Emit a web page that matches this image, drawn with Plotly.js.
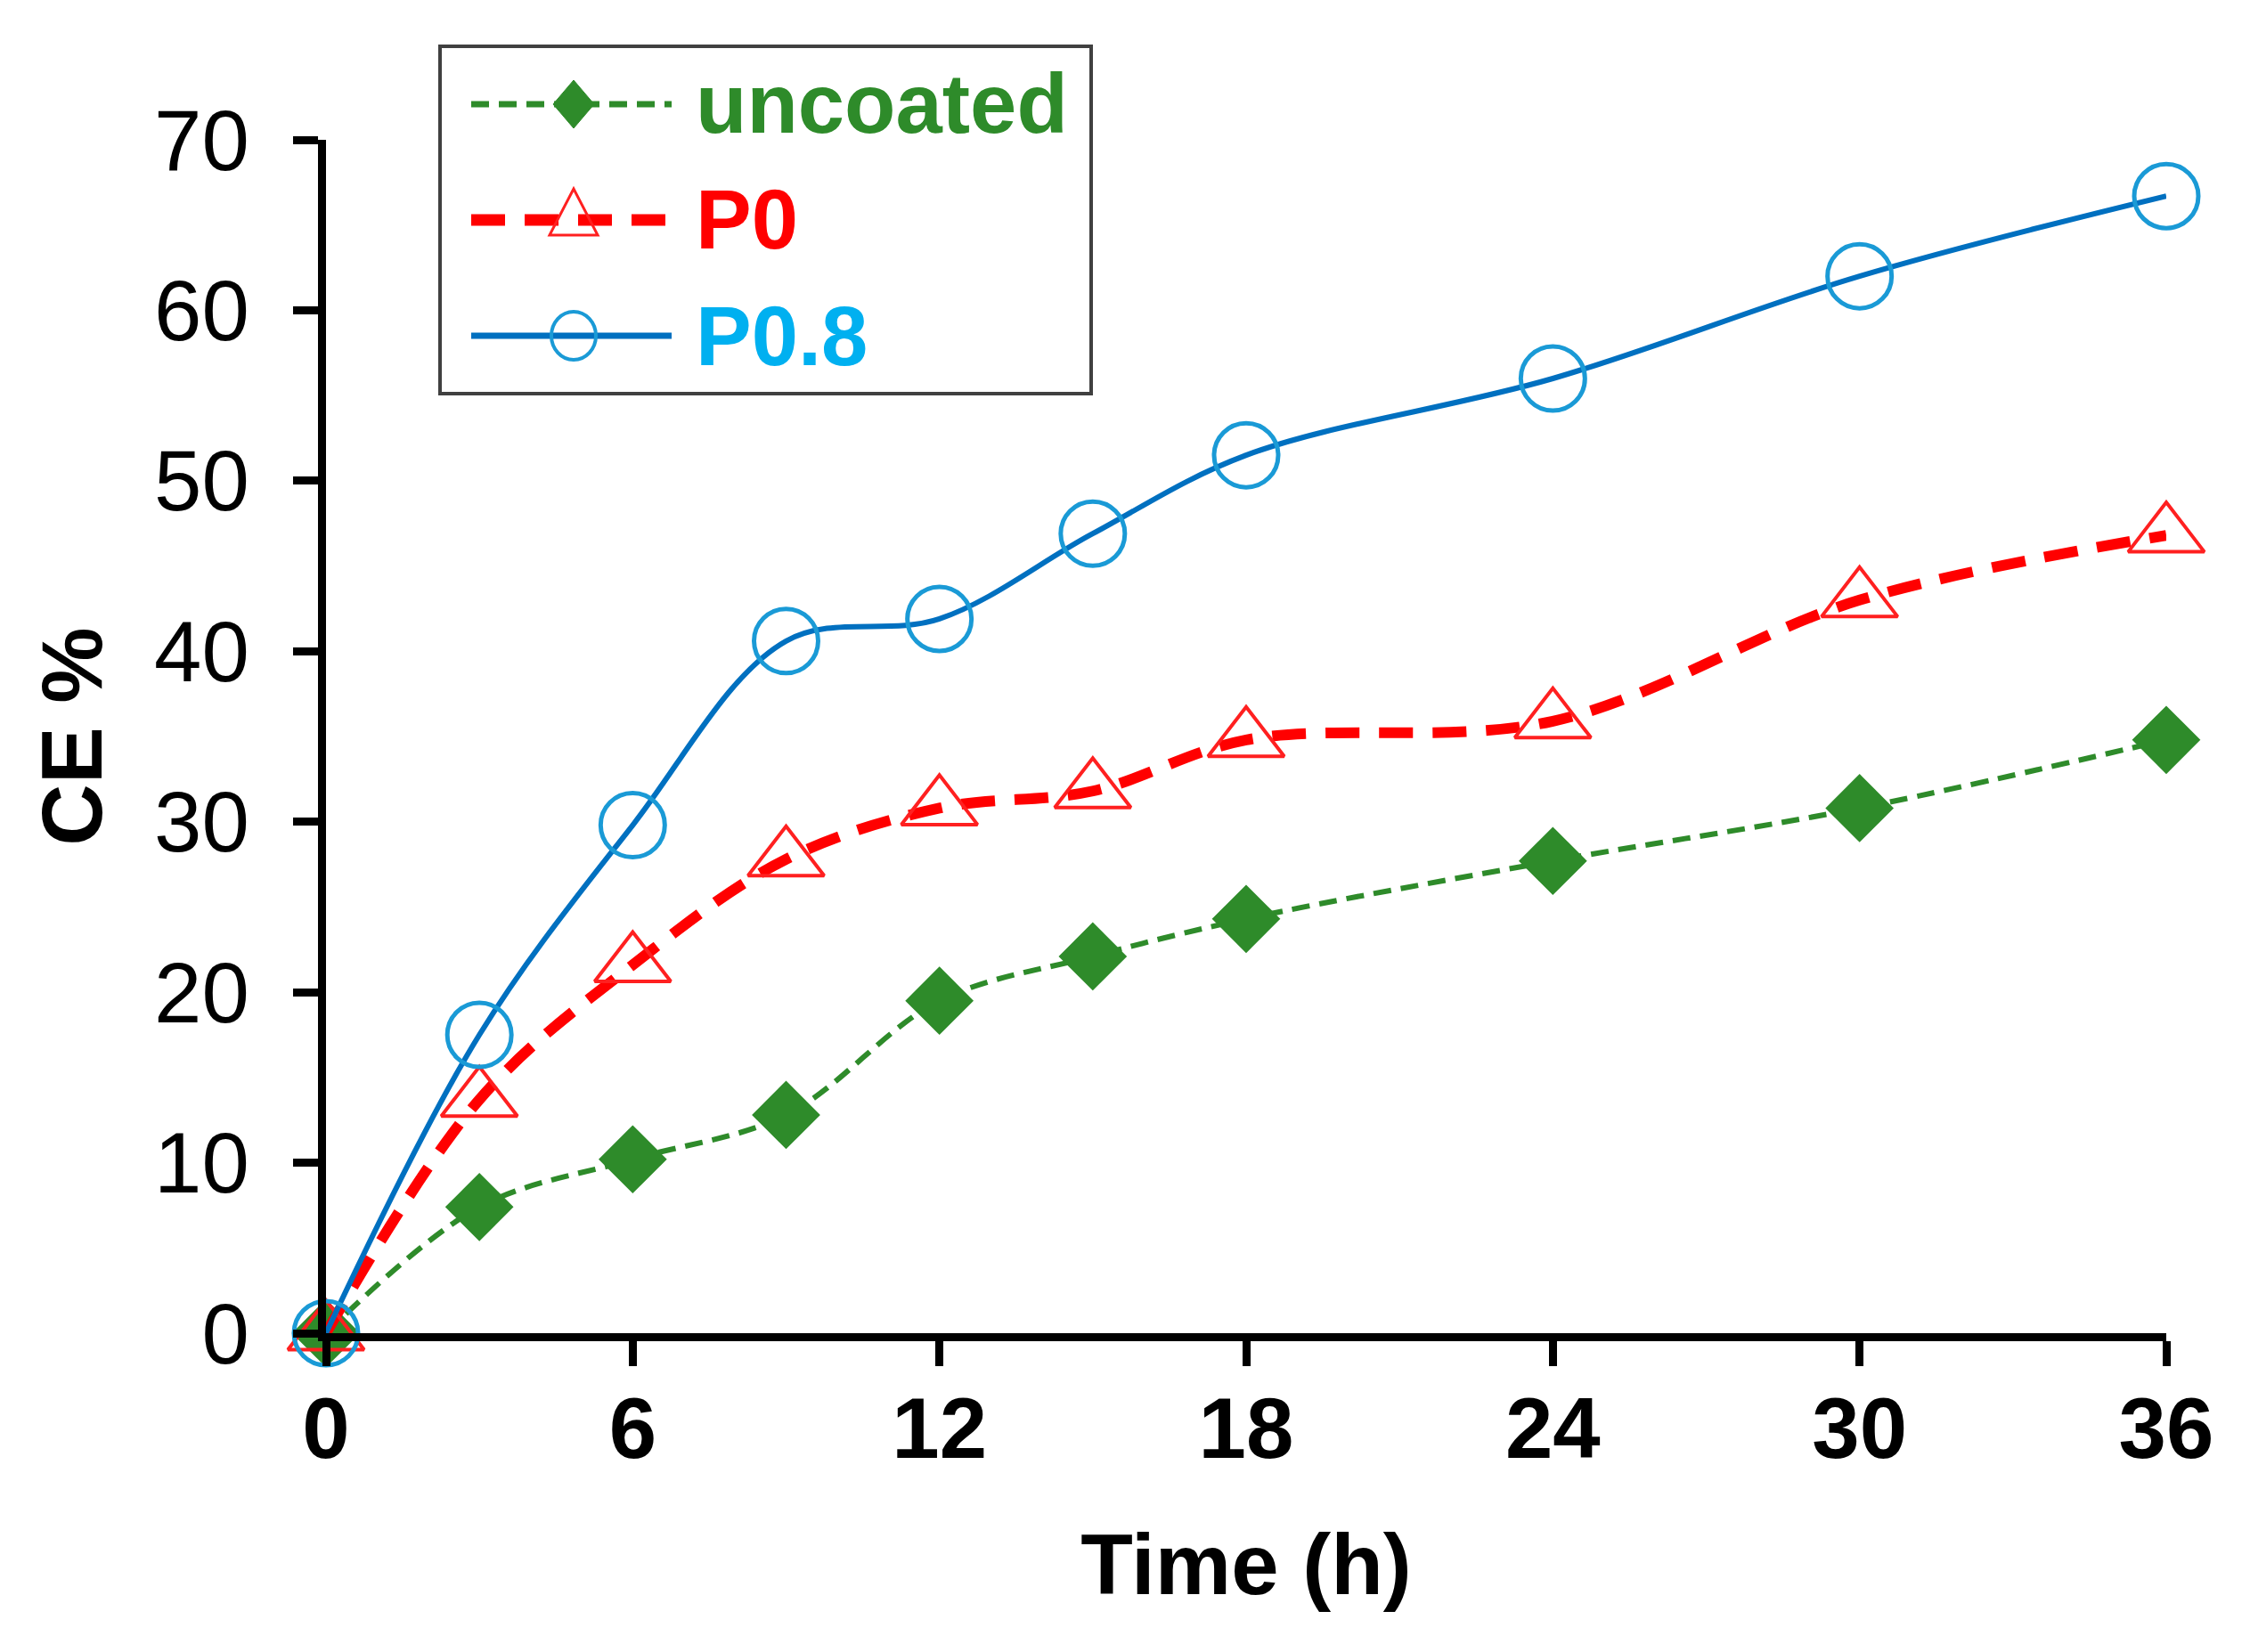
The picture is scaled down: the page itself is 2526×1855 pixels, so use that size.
<!DOCTYPE html>
<html>
<head>
<meta charset="utf-8">
<script src="https://cdn.plot.ly/plotly-3.0.1.min.js"></script>
<style>html,body{margin:0;padding:0;background:#fff}</style>
</head>
<body>
<div id="chart" style="width:2526px;height:1855px"></div>
<script>
// values
const timeH = [0, 3, 6, 9, 12, 15, 18, 24, 30, 36];
const uncoated = [0, 7.4, 10.2, 12.8, 19.5, 22.1, 24.3, 27.7, 30.8, 34.8];
const p0 = [0, 13.7, 21.6, 27.8, 30.8, 31.8, 34.8, 35.9, 43.0, 46.8];
const p08 = [0, 17.5, 29.8, 40.6, 41.9, 46.9, 51.5, 56.0, 62.0, 66.7];
const seriesNames = ["uncoated", "P0", "P0.8"];
const xTicks = [0, 6, 12, 18, 24, 30, 36];
const yTicks = [0, 10, 20, 30, 40, 50, 60, 70];

const W = 2526, H = 1855;
const M = { l: 366, r: 94, t: 157, b: 358 };
const FONT = "Liberation Sans, Arial, sans-serif";

const green = "#2e8b2a", red = "#ff0000", blue = "#0070c0";

const styles = [
  {
    line: { color: green, width: 6, dash: "20px,11px", shape: "spline", smoothing: 1 },
    marker: { symbol: "diamond", size: 59, color: green },
    text: green,
  },
  {
    line: { color: red, width: 12, dash: "38px,22px", shape: "spline", smoothing: 1 },
    marker: { symbol: "triangle-up-open", size: 74, color: "#ff2020", line: { width: 4 } },
    text: red,
  },
  {
    line: { color: blue, width: 6, shape: "spline", smoothing: 1 },
    marker: { symbol: "circle-open", size: 72, color: "#1a9ad6", line: { width: 5 } },
    text: "#00b0f0",
  },
];

const series = [uncoated, p0, p08];
const traces = series.map((ys, i) => ({
  name: seriesNames[i],
  x: timeH,
  y: ys,
  type: "scatter",
  mode: "lines+markers",
  line: styles[i].line,
  marker: styles[i].marker,
  cliponaxis: false,
  showlegend: false,
}));

// hand-made legend box, positioned in pixels
const px2x = (px) => (px - M.l) / (W - M.l - M.r);
const py2y = (py) => 1 - (py - M.t) / (H - M.t - M.b);
const legRows = [117, 247, 377];
const shapes = [
  {
    type: "rect", xref: "paper", yref: "paper",
    x0: px2x(494), x1: px2x(1225), y0: py2y(52), y1: py2y(442),
    line: { color: "#404040", width: 4 }, fillcolor: "white", layer: "above",
  },
];
const annotations = [];
legRows.forEach((ry, i) => {
  const st = styles[i];
  shapes.push({
    type: "line", xref: "paper", yref: "paper", layer: "above",
    x0: px2x(529), x1: px2x(754), y0: py2y(ry), y1: py2y(ry),
    line: { color: st.line.color, width: i === 1 ? 13 : st.line.width + 1, dash: st.line.dash || "solid" },
  });
  const base = {
    xref: "paper", yref: "paper", layer: "above",
    xsizemode: "pixel", ysizemode: "pixel",
    xanchor: px2x(644), yanchor: py2y(ry),
  };
  if (i === 0) {
    shapes.push(Object.assign({}, base, {
      type: "path", path: "M 0 27 L 23 0 L 0 -27 L -23 0 Z",
      fillcolor: green, line: { color: green, width: 1 },
    }));
  } else if (i === 1) {
    shapes.push(Object.assign({}, base, {
      type: "path", path: "M -27 -17 L 27 -17 L 0 35 Z",
      fillcolor: "rgba(0,0,0,0)", line: { color: "#ff2020", width: 3 },
    }));
  } else {
    shapes.push(Object.assign({}, base, {
      type: "circle", x0: -25, x1: 25, y0: -27, y1: 27,
      fillcolor: "rgba(0,0,0,0)", line: { color: "#1a9ad6", width: 4 },
    }));
  }
  annotations.push({
    xref: "paper", yref: "paper", x: px2x(779), y: py2y(ry),
    xanchor: "left", yanchor: "middle", showarrow: false,
    text: seriesNames[i],
    font: { family: FONT, size: 94, weight: "bold", color: st.text },
  });
});

const axisCommon = {
  showline: true, linecolor: "black", linewidth: 9,
  ticks: "outside", ticklen: 28, tickwidth: 9, tickcolor: "black",
  showgrid: false, zeroline: false, automargin: false,
};

Plotly.newPlot(
  "chart",
  traces,
  {
    width: W,
    height: H,
    margin: M,
    paper_bgcolor: "white",
    plot_bgcolor: "white",
    font: { family: FONT, color: "black" },
    xaxis: Object.assign({}, axisCommon, {
      range: [0, 36],
      tickvals: xTicks,
      ticklabelstandoff: -12,
      tickfont: { family: FONT, size: 96, weight: "bold" },
      title: { text: "Time (h)", font: { family: FONT, size: 96, weight: "bold" }, standoff: 70 },
    }),
    yaxis: Object.assign({}, axisCommon, {
      range: [0, 70],
      tickvals: yTicks,
      ticklabelstandoff: 30,
      tickfont: { family: FONT, size: 96 },
      title: { text: "CE %", font: { family: FONT, size: 96, weight: "bold" }, standoff: 30 },
    }),
    shapes: shapes,
    annotations: annotations,
  },
  { staticPlot: true }
);
</script>
</body>
</html>
